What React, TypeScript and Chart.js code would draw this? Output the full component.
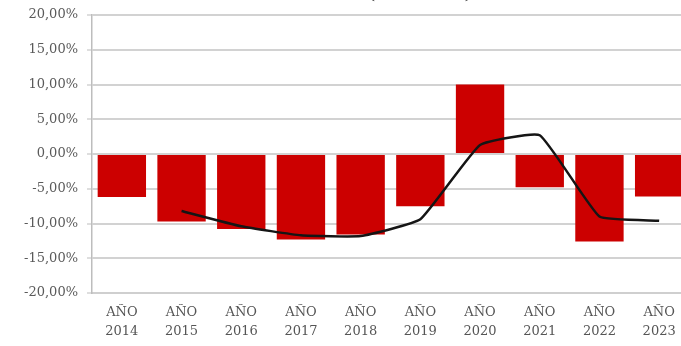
import React, { useEffect, useRef } from "react";
import { Chart, registerables } from "chart.js";

Chart.register(...registerables);

const categories: string[][] = [
  ["AÑO", "2014"], ["AÑO", "2015"], ["AÑO", "2016"], ["AÑO", "2017"], ["AÑO", "2018"],
  ["AÑO", "2019"], ["AÑO", "2020"], ["AÑO", "2021"], ["AÑO", "2022"], ["AÑO", "2023"],
];
const barValues: number[] = [-6.2, -9.7, -10.8, -12.3, -11.6, -7.5, 10.0, -4.8, -12.6, -6.1];
const lineValues: (number | null)[] = [null, -8.2, -10.4, -11.7, -11.8, -9.4, 1.3, 2.7, -9.0, -9.6];
const titleText = "Tasa de variación (2014-2023)";

const CANVAS_W = 689;
const CANVAS_H = 366;

export default function App() {
  const ref = useRef<HTMLCanvasElement | null>(null);

  useEffect(() => {
    if (!ref.current) return;
    const serif = "'DejaVu Serif', serif";
    const chart = new Chart(ref.current, {
      type: "bar",
      data: {
        labels: categories,
        datasets: [
          {
            type: "line",
            label: "Tendencia",
            data: lineValues,
            borderColor: "#151515",
            borderWidth: 2.5,
            pointRadius: 0,
            tension: 0.12,
            fill: false,
            order: 0,
          } as any,
          {
            type: "bar",
            label: "Variación",
            data: barValues,
            backgroundColor: "#cc0000",
            borderWidth: 0,
            categoryPercentage: 0.81,
            barPercentage: 1,
            order: 1,
          },
        ],
      },
      options: {
        responsive: false,
        animation: false,
        layout: { padding: { top: 6, left: 0, right: 0, bottom: 0 } },
        plugins: {
          legend: { display: false },
          tooltip: { enabled: false },
          title: {
            display: true,
            text: titleText,
            color: "#404040",
            font: { family: serif, size: 15, weight: "bold", lineHeight: 1.2 },
            padding: { top: 0, bottom: 11 },
          },
        },
        scales: {
          x: {
            grid: { display: false, drawTicks: false },
            border: { display: true, color: "#cfcfcf", width: 2 },
            ticks: {
              color: "#555555",
              font: { family: serif, size: 13, lineHeight: 1.45 },
              padding: 10,
              maxRotation: 0,
              autoSkip: false,
            },
            afterFit: (s: any) => {
              s.height = 53;
            },
          },
          y: {
            min: -20,
            max: 20,
            grid: {
              color: "#d2d2d2",
              lineWidth: 2,
              drawTicks: true,
              tickLength: 5,
              tickColor: "#bdbdbd",
              tickWidth: 1,
            },
            border: { display: true, color: "#bdbdbd", width: 1.5 },
            ticks: {
              stepSize: 5,
              color: "#5a5a5a",
              font: { family: serif, size: 13 },
              padding: 9,
              callback: (v: any) => Number(v).toFixed(2).replace(".", ",") + "%",
            },
            afterFit: (s: any) => {
              s.width = 92;
            },
          },
        },
      },
    });
    return () => chart.destroy();
  }, []);

  return (
    <div style={{ position: "fixed", left: 0, top: 0, width: 681, height: 346, overflow: "hidden", background: "#fff" }}>
      <div style={{ position: "absolute", left: 0, top: -20, width: CANVAS_W, height: CANVAS_H }}>
        <canvas ref={ref} width={CANVAS_W} height={CANVAS_H} style={{ display: "block" }} />
      </div>
    </div>
  );
}
